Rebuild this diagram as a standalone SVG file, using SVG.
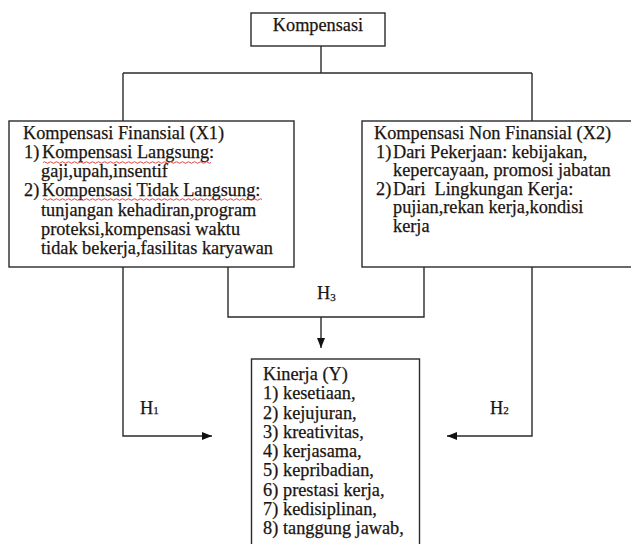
<svg xmlns="http://www.w3.org/2000/svg" width="631" height="544" viewBox="0 0 631 544">
<style>
.box{fill:#fff;stroke:#2a2a2a;stroke-width:1.4}
.ln{fill:none;stroke:#2a2a2a;stroke-width:1.4}
text{font-family:"Liberation Serif","Times New Roman",serif;font-size:18.3px;fill:#1a1410;stroke:#1a1410;stroke-width:0.25}
.sub{font-size:11px}
.sq{fill:none;stroke:#e03030;stroke-width:0.9}
</style>
<defs>
<marker id="ah" viewBox="0 0 10 10" refX="10" refY="5" markerWidth="10" markerHeight="10" markerUnits="userSpaceOnUse" orient="auto">
<path d="M0,1 L10,5 L0,9 Z" fill="#111"/>
</marker>
</defs>
<rect width="631" height="544" fill="#fff"/>
<g id="connectors">
<path class="ln" d="M321,46 V73"/>
<path class="ln" d="M123,73 H532"/>
<path class="ln" d="M123,73 V121"/>
<path class="ln" d="M532,73 V121"/>
<path class="ln" d="M123,267 V436 H212" marker-end="url(#ah)"/>
<path class="ln" d="M228,267 V317 H424 V267"/>
<path class="ln" d="M321,317 V348" marker-end="url(#ah)"/>
<path class="ln" d="M532,267 V436 H447" marker-end="url(#ah)"/>
<text x="140" y="414">H<tspan class="sub">1</tspan></text>
<text x="490" y="414">H<tspan class="sub">2</tspan></text>
<text x="317" y="299">H<tspan class="sub" dy="2">3</tspan></text>
</g>
<g id="kompensasi">
<rect class="box" x="251" y="13" width="134" height="33"/>
<text x="318" y="31" text-anchor="middle">Kompensasi</text>
</g>
<g id="finansial">
<rect class="box" x="9" y="121" width="285" height="146"/>
<text x="23" y="139">Kompensasi Finansial (X1)</text>
<text x="24" y="158">1)<tspan x="42">Kompensasi Langsung:</tspan></text>
<path class="sq" d="M43,162.5 q1.5,-1.5 3,0 t3,0 t3,0 t3,0 t3,0 t3,0 t3,0 t3,0 t3,0 t3,0 t3,0 t3,0 t3,0 t3,0 t3,0 t3,0 t3,0 t3,0 t3,0 t3,0 t3,0 t3,0 t3,0 t3,0 t3,0 t3,0 t3,0 t3,0 t3,0 t3,0 t3,0 t3,0 t3,0 t3,0 t3,0 t3,0 t3,0 t3,0 t3,0 t3,0 t3,0 t3,0 t3,0 t3,0 t3,0 t3,0 t3,0 t3,0 t3,0 t3,0 t3,0 t3,0 t3,0 t3,0 t3,0 t3,0"/>
<text x="41" y="177">gaji,upah,insentif</text>
<text x="24" y="196">2)<tspan x="42">Kompensasi Tidak Langsung:</tspan></text>
<path class="sq" d="M43,199.5 q1.5,-1.5 3,0 t3,0 t3,0 t3,0 t3,0 t3,0 t3,0 t3,0 t3,0 t3,0 t3,0 t3,0 t3,0 t3,0 t3,0 t3,0 t3,0 t3,0 t3,0 t3,0 t3,0 t3,0 t3,0 t3,0 t3,0 t3,0 t3,0 t3,0 t3,0 t3,0 t3,0 t3,0 t3,0 t3,0 t3,0 t3,0 t3,0 t3,0 t3,0 t3,0 t3,0 t3,0 t3,0 t3,0 t3,0 t3,0 t3,0 t3,0 t3,0 t3,0 t3,0 t3,0 t3,0 t3,0 t3,0 t3,0 t3,0 t3,0 t3,0 t3,0 t3,0 t3,0 t3,0 t3,0 t3,0 t3,0 t3,0 t3,0 t3,0 t3,0 t3,0 t3,0 t3,0"/>
<text x="41" y="216">tunjangan kehadiran,program</text>
<text x="41" y="235">proteksi,kompensasi waktu</text>
<text x="41" y="254">tidak bekerja,fasilitas karyawan</text>
</g>
<g id="nonfinansial">
<rect class="box" x="362" y="121" width="290" height="146"/>
<text x="374" y="139">Kompensasi Non Finansial (X2)</text>
<text x="376" y="157.5">1)<tspan x="393">Dari Pekerjaan: kebijakan,</tspan></text>
<text x="393" y="176">kepercayaan, promosi jabatan</text>
<text x="376" y="194.5" xml:space="preserve">2)<tspan x="393">Dari  Lingkungan Kerja:</tspan></text>
<text x="393" y="213">pujian,rekan kerja,kondisi</text>
<text x="393" y="231.5">kerja</text>
</g>
<g id="kinerja">
<rect class="box" x="251.5" y="359" width="168" height="200"/>
<text x="263" y="380">Kinerja (Y)</text>
<text x="263" y="399.3">1)<tspan x="283">kesetiaan,</tspan></text>
<text x="263" y="418.5">2)<tspan x="283">kejujuran,</tspan></text>
<text x="263" y="437.8">3)<tspan x="283">kreativitas,</tspan></text>
<text x="263" y="457">4)<tspan x="283">kerjasama,</tspan></text>
<text x="263" y="476.3">5)<tspan x="283">kepribadian,</tspan></text>
<text x="263" y="495.5">6)<tspan x="283">prestasi kerja,</tspan></text>
<text x="263" y="514.8">7)<tspan x="283">kedisiplinan,</tspan></text>
<text x="263" y="534">8)<tspan x="283">tanggung jawab,</tspan></text>
</g>
</svg>
